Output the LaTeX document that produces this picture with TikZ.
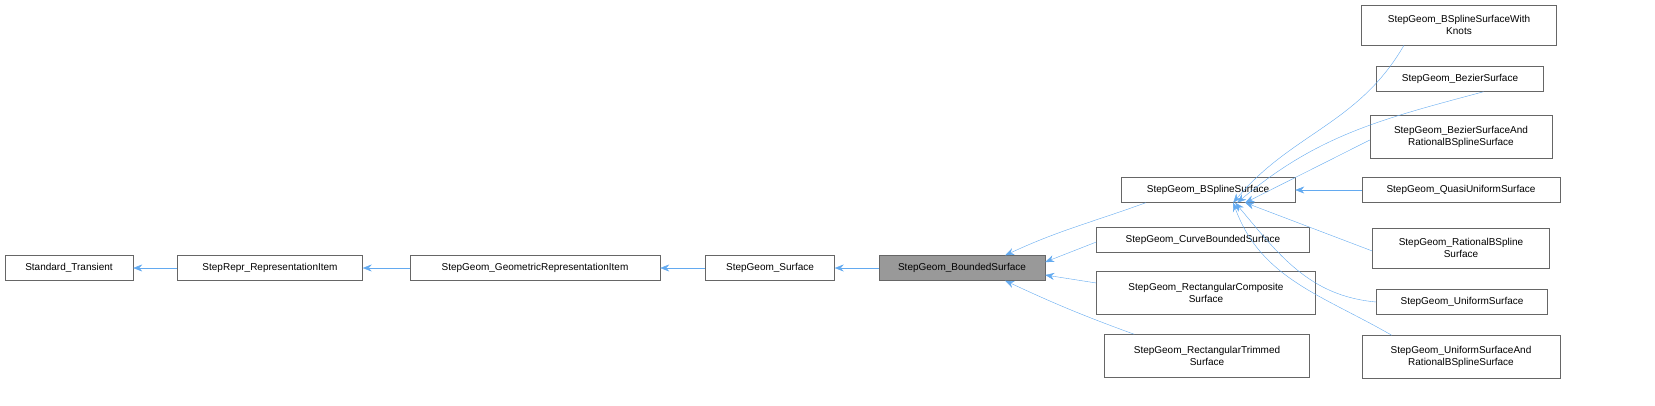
\documentclass[tikz,border=0pt]{standalone}
\usepackage{fontspec}
\setmainfont{Liberation Sans}
\usetikzlibrary{arrows.meta}
\definecolor{edge}{RGB}{99,170,240}
\definecolor{cur}{RGB}{153,153,153}
\definecolor{frame}{RGB}{102,102,102}

\begin{document}
\begin{tikzpicture} [
    x=1pt,y=-1pt,
    cls/.style={draw=frame,fill=white,font=\fontsize{10}{11.5}\selectfont,
        align=center,inner sep=2pt,minimum height=25pt,anchor=center},
    f/.style={draw=edge,{Stealth[length=9pt,width=7pt]}-}
]
\useasboundingbox (0,0) rectangle (1655,405);

\node [cls,minimum width=128pt] (trans) at (69,268) {Standard\_Transient};
\node [cls,minimum width=185pt] (ritem) at (270,268) {StepRepr\_RepresentationItem};
\node [cls,minimum width=250pt] (gitem) at (535,268) {StepGeom\_GeometricRepresentationItem};
\node [cls,minimum width=129pt] (surf) at (770,268) {StepGeom\_Surface};
\node [cls,minimum width=166pt,fill=cur] (bsurf) at (962,268) {StepGeom\_BoundedSurface};

\node [cls,minimum width=174pt] (bspl) at (1208,190) {StepGeom\_BSplineSurface};
\node [cls,minimum width=213pt] (curve) at (1203,240) {StepGeom\_CurveBoundedSurface};
\node [cls,minimum width=219pt,minimum height=43pt] (rcomp) at (1206,293) {StepGeom\_RectangularComposite\\Surface};
\node [cls,minimum width=205pt,minimum height=43pt] (rtrim) at (1207,356) {StepGeom\_RectangularTrimmed\\Surface};

\node [cls,minimum width=195pt,minimum height=40pt] (knots) at (1459,25) {StepGeom\_BSplineSurfaceWith\\Knots};
\node [cls,minimum width=167pt] (bez) at (1460,79) {StepGeom\_BezierSurface};
\node [cls,minimum width=182pt,minimum height=43pt] (bezr) at (1461,137) {StepGeom\_BezierSurfaceAnd\\RationalBSplineSurface};
\node [cls,minimum width=198pt] (quasi) at (1461,190) {StepGeom\_QuasiUniformSurface};
\node [cls,minimum width=177pt,minimum height=40pt] (rat) at (1461,248) {StepGeom\_RationalBSpline\\Surface};
\node [cls,minimum width=171pt] (unif) at (1462,302) {StepGeom\_UniformSurface};
\node [cls,minimum width=198pt,minimum height=43pt] (unifr) at (1461,357) {StepGeom\_UniformSurfaceAnd\\RationalBSplineSurface};

\draw [f] (trans) -- (ritem);
\draw [f] (ritem) -- (gitem);
\draw [f] (gitem) -- (surf);
\draw [f] (surf) -- (bsurf);

\draw [f] ([xshift=-40pt]bsurf.north east) to[out=25,in=200] ([xshift=25pt]bspl.south west);
\draw [f] ([yshift=6pt]bsurf.east) -- ([yshift=-2pt]curve.west);
\draw [f] ([yshift=-7pt]bsurf.east) -- ([yshift=10pt]rcomp.west);
\draw [f] ([xshift=-40pt]bsurf.south east) to[out=-25,in=160] ([xshift=30pt]rtrim.north west);

\draw [f] ([xshift=-62pt]bspl.south east) to[out=50,in=240] ([xshift=-55pt]knots.south);
\draw [f] ([xshift=-58pt]bspl.south east) to[out=40,in=195] ([xshift=-60pt]bez.south east);
\draw [f] ([xshift=-50pt]bspl.south east) -- ([yshift=-3pt]bezr.west);
\draw [f] (bspl.east) -- (quasi.west);
\draw [f] ([xshift=-50pt]bspl.south east) -- ([yshift=-3pt]rat.west);
\draw [f] ([xshift=-60pt]bspl.south east) to[out=-50,in=175] (unif.west);
\draw [f] ([xshift=-62pt]bspl.south east) to[out=-70,in=150] ([xshift=30pt]unifr.north west);
\end{tikzpicture}
\end{document}
